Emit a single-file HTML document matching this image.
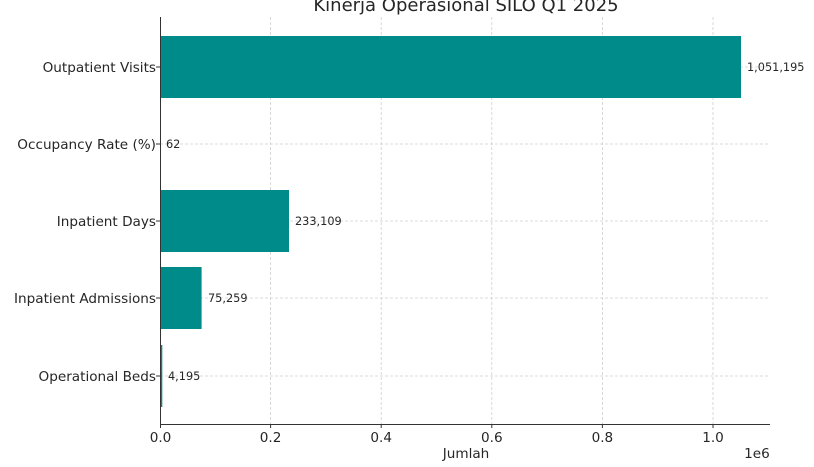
<!DOCTYPE html>
<html><head><style>body{margin:0;background:#fff}svg{display:block}</style></head><body>
<svg width="814" height="467" xmlns="http://www.w3.org/2000/svg" font-family="DejaVu Sans, Liberation Sans, sans-serif">
<text x="466" y="11" font-size="18" text-anchor="middle" fill="#262626">Kinerja Operasional SILO Q1 2025</text>
<g stroke="#cfcfcf" stroke-width="0.8" stroke-dasharray="3,2">
<line x1="270.6" y1="17" x2="270.6" y2="424"/><line x1="381.2" y1="17" x2="381.2" y2="424"/><line x1="491.8" y1="17" x2="491.8" y2="424"/><line x1="602.4" y1="17" x2="602.4" y2="424"/><line x1="713" y1="17" x2="713" y2="424"/>
<line x1="160" y1="67" x2="770" y2="67"/><line x1="160" y1="144" x2="770" y2="144"/><line x1="160" y1="221" x2="770" y2="221"/><line x1="160" y1="298" x2="770" y2="298"/><line x1="160" y1="376" x2="770" y2="376"/>
</g>
<g fill="#008b8b">
<rect x="160" y="36" width="581" height="62"/>
<rect x="160" y="190" width="129" height="62"/>
<rect x="160" y="267" width="41.6" height="62"/>
<rect x="160" y="345" width="2.3" height="62"/>
</g>
<g stroke="#333" stroke-width="1">
<line x1="160.5" y1="17" x2="160.5" y2="424"/><line x1="160" y1="424.5" x2="770" y2="424.5"/>
<line x1="156" y1="67" x2="160" y2="67"/><line x1="156" y1="144" x2="160" y2="144"/><line x1="156" y1="221" x2="160" y2="221"/><line x1="156" y1="298" x2="160" y2="298"/><line x1="156" y1="376" x2="160" y2="376"/>
<line x1="160.5" y1="424" x2="160.5" y2="428"/><line x1="270.6" y1="424" x2="270.6" y2="428"/><line x1="381.2" y1="424" x2="381.2" y2="428"/><line x1="491.8" y1="424" x2="491.8" y2="428"/><line x1="602.4" y1="424" x2="602.4" y2="428"/><line x1="713" y1="424" x2="713" y2="428"/>
</g>
<g font-size="13.6" fill="#262626" text-anchor="end">
<text x="156" y="72">Outpatient Visits</text><text x="156" y="149">Occupancy Rate (%)</text><text x="156" y="226">Inpatient Days</text><text x="156" y="303">Inpatient Admissions</text><text x="156" y="381">Operational Beds</text>
</g>
<g font-size="11.3" fill="#262626">
<text x="747" y="71">1,051,195</text><text x="166" y="148">62</text><text x="295" y="225">233,109</text><text x="208" y="302">75,259</text><text x="168" y="380">4,195</text>
</g>
<g font-size="13.6" fill="#262626" text-anchor="middle">
<text x="160.5" y="442">0.0</text><text x="270.6" y="442">0.2</text><text x="381.2" y="442">0.4</text><text x="491.8" y="442">0.6</text><text x="602.4" y="442">0.8</text><text x="713" y="442">1.0</text>
<text x="466" y="458">Jumlah</text><text x="757" y="458">1e6</text>
</g>
</svg>
</body></html>
